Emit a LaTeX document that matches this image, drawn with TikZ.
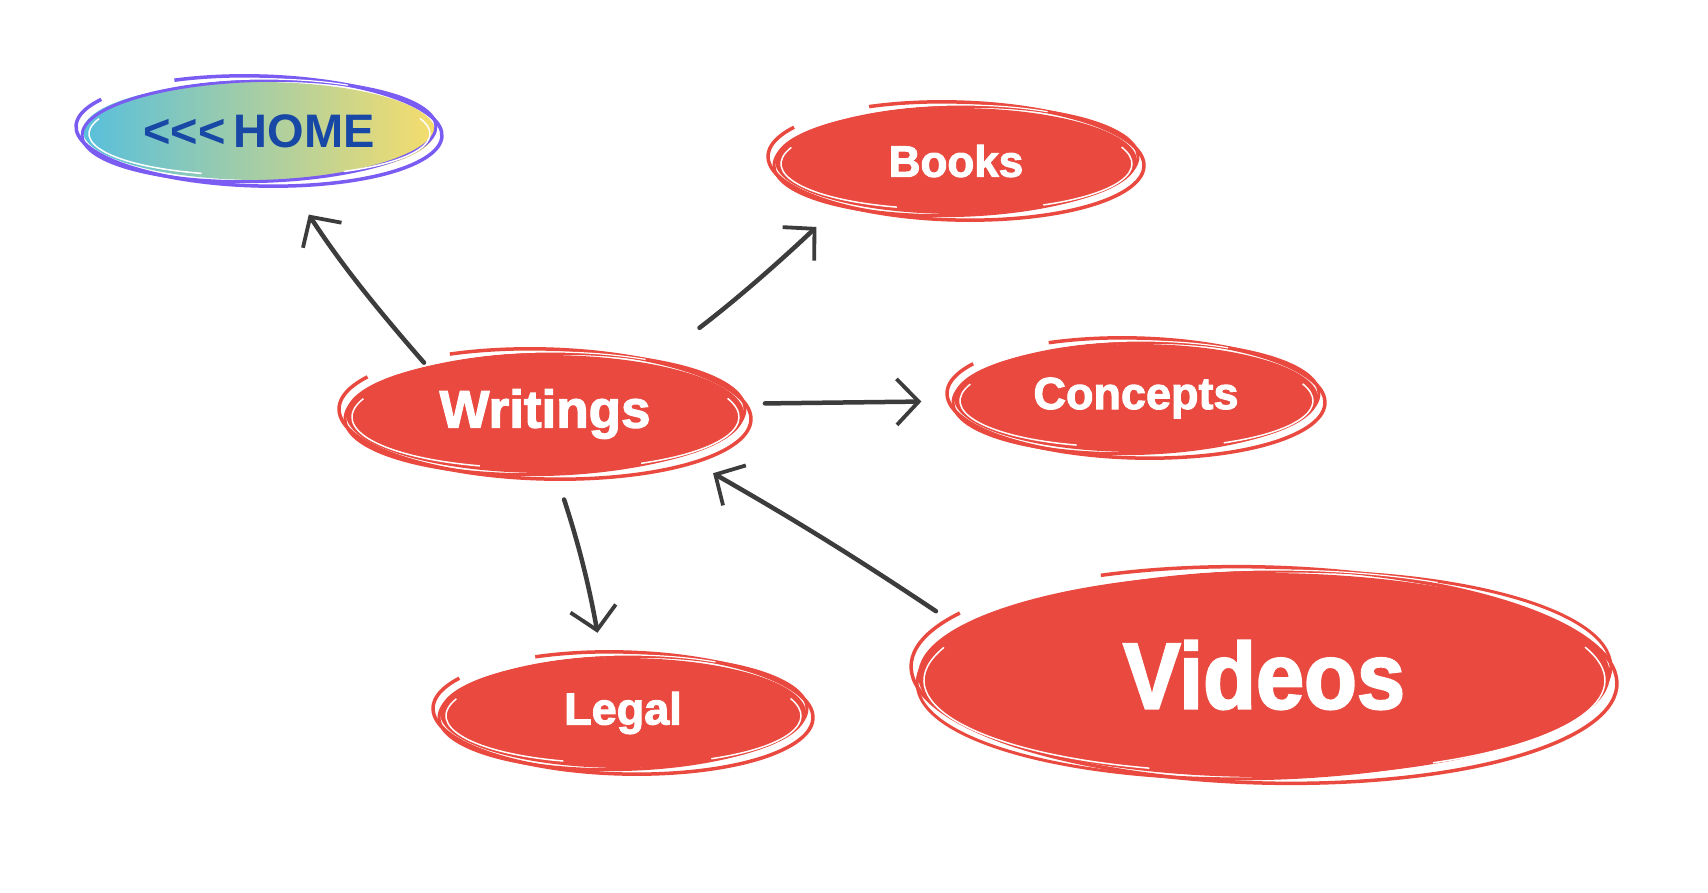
\documentclass[tikz,border=0pt]{standalone}
\usepackage{fontspec}
\setmainfont{Liberation Sans}
\newfontfamily\heavyfont[FakeBold=2.3]{Liberation Sans Bold}
\usetikzlibrary{shapes.geometric,arrows.meta}
\definecolor{nodered}{HTML}{E9493F}
\definecolor{arrowgray}{HTML}{3C3C3C}
\definecolor{homeL}{HTML}{58BFDC}
\definecolor{homeR}{HTML}{F6DD6C}
\definecolor{homeblue}{HTML}{1848A6}
\definecolor{homepurple}{HTML}{7A5CF2}
\newcommand\sketchell[4]{%
 \begin{scope}[shift={(#1.center)}]
  \draw[#4, line width=3.5pt, rotate=-1.5] (150:{#2+7} and {#3+6}) arc[start angle=150, end angle=478, x radius={#2+7}, y radius={#3+6}];
  \draw[#4, line width=3pt, rotate=1.5] (0,0) ellipse [x radius={#2+1}, y radius={#3+1.5}];
  \draw[white, line width=1.5pt, rotate=1] (160:{#2-6} and {#3-5}) arc[start angle=160, end angle=250, x radius={#2-6}, y radius={#3-5}];
  \draw[white, line width=1.5pt, rotate=-1] (-60:{#2-5} and {#3-4}) arc[start angle=-60, end angle=20, x radius={#2-5}, y radius={#3-4}];
  \draw[white, line width=1.2pt, rotate=0.5] (60:{#2+3} and {#3+3}) arc[start angle=60, end angle=115, x radius={#2+3}, y radius={#3+3}];
 \end{scope}}
\tikzset{
 rednode/.style={ellipse, fill=nodered, inner sep=0pt, outer sep=0pt, text=white},
 arr/.style={draw=arrowgray, line width=4.5pt, line cap=round,
   -{Straight Barb[length=22pt, width=46pt, line width=3.8pt]}},
}
\begin{document}
\begin{tikzpicture}[x=1pt,y=1pt]
\useasboundingbox[fill=white] (0,0) rectangle (1708,892);
% nodes
\node[ellipse, left color=homeL, right color=homeR, inner sep=0pt, outer sep=0pt,
  minimum width=352, minimum height=98, text=homeblue] (home) at (259,761)
  {\bfseries\fontsize{47}{50}\selectfont <{}<{}<\,HOME};
\node[rednode, minimum width=362, minimum height=106] (books) at (956,731)
  {\heavyfont\fontsize{44}{48}\selectfont Books};
\node[rednode, minimum width=398, minimum height=118] (writings) at (545,478)
  {\heavyfont\fontsize{53}{58}\selectfont Writings};
\node[rednode, minimum width=364, minimum height=108] (concepts) at (1136,494)
  {\heavyfont\fontsize{45}{50}\selectfont Concepts};
\node[rednode, minimum width=366, minimum height=110] (legal) at (623,179)
  {\heavyfont\fontsize{45}{50}\selectfont Legal};
\node[rednode, minimum width=692, minimum height=204] (videos) at (1264,217)
  {\heavyfont\fontsize{94}{98}\selectfont\addfontfeatures{FakeStretch=0.92}Videos};
% sketchy outlines
\sketchell{home}{176}{49}{homepurple}
\sketchell{books}{181}{53}{nodered}
\sketchell{writings}{199}{59}{nodered}
\sketchell{concepts}{182}{54}{nodered}
\sketchell{legal}{183}{55}{nodered}
\sketchell{videos}{346}{102}{nodered}
% connectors
\draw[arr, shorten <=5pt, shorten >=42pt] (writings.158) to[bend left=4] (home.-61);
\draw[arr, shorten <=60pt, shorten >=36pt] (writings.25) to[bend right=3] (books.-160);
\draw[arr, shorten <=24pt, shorten >=33pt] (writings.3) -- (concepts.181.5);
\draw[arr, shorten <=28pt, shorten >=26pt] (writings.-80) to[bend left=4] (legal.111);
\draw[arr, shorten <=28pt, shorten >=34pt] (videos.171.6) to[bend right=2] (writings.-17);
\end{tikzpicture}
\end{document}
